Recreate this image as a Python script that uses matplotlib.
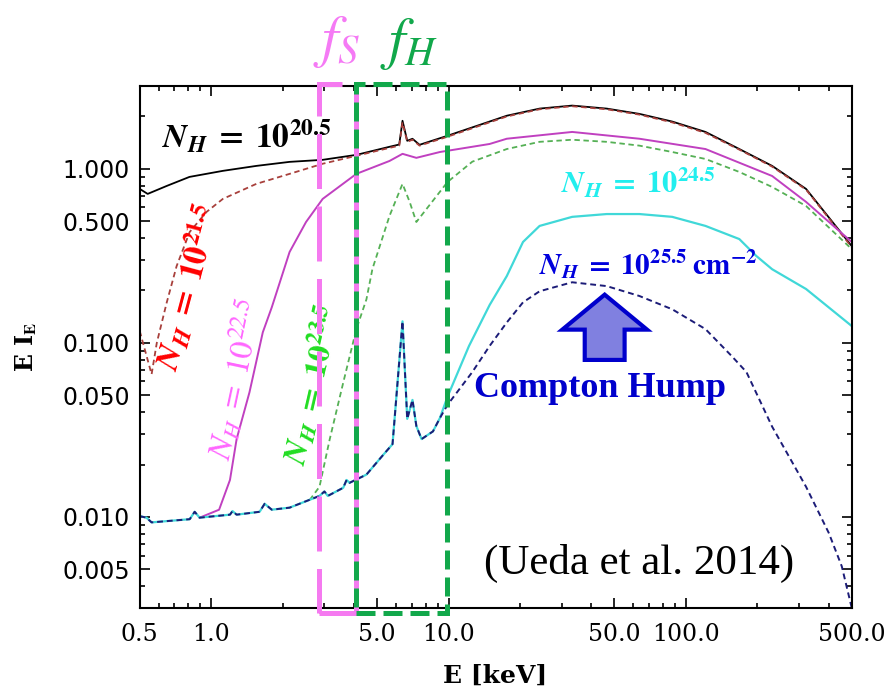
import matplotlib
matplotlib.use('Agg')
import matplotlib.pyplot as plt
import matplotlib.transforms as mtransforms
from matplotlib.patches import Rectangle, FancyArrow
from matplotlib.ticker import FixedLocator, NullFormatter

plt.rcParams['mathtext.fontset'] = 'stix'

# energy [keV] and E*I_E
nh205_e = [0.5, 0.54, 0.65, 0.81, 1.12, 1.55, 2.14, 2.95, 4.1, 5.64, 6.2, 6.4, 6.7, 7.05,
           7.55, 9.9, 17.6, 24.2, 33.2, 46.4, 63.7, 87.6, 121, 168, 231, 321, 500]
nh205_v = [0.767, 0.718, 0.798, 0.899, 0.974, 1.04, 1.097, 1.127, 1.204, 1.339, 1.38, 1.89,
           1.45, 1.489, 1.375, 1.549, 2.02, 2.22, 2.31, 2.22, 2.07, 1.87, 1.63, 1.30, 1.04,
           0.767, 0.36]

nh215_e = [0.5, 0.561, 0.59, 0.65, 0.715, 0.812, 0.955, 1.12, 1.55, 2.14, 2.95, 4.1, 5.64,
           6.2, 6.4, 6.7, 7.05, 7.55, 9.9, 17.6, 24.2, 33.2, 46.4, 63.7, 87.6, 121, 168,
           231, 321, 500]
nh215_v = [0.117, 0.066, 0.10, 0.171, 0.276, 0.434, 0.565, 0.672, 0.82, 0.936, 1.07, 1.19,
           1.32, 1.36, 1.85, 1.43, 1.47, 1.36, 1.53, 2.0, 2.2, 2.29, 2.2, 2.05, 1.85, 1.61,
           1.29, 1.03, 0.76, 0.355]

nh225_e = [0.894, 1.08, 1.20, 1.28, 1.45, 1.65, 1.80, 2.14, 2.51, 2.95, 4.09, 5.64, 6.4,
           7.32, 9.2, 14.9, 17.6, 33.2, 63.7, 121, 231, 321, 500]
nh225_v = [0.0099, 0.011, 0.0163, 0.028, 0.052, 0.115, 0.16, 0.333, 0.495, 0.672, 0.936,
           1.11, 1.22, 1.157, 1.25, 1.39, 1.49, 1.63, 1.49, 1.30, 0.91, 0.646, 0.38]

nh235_e = [2.60, 2.86, 3.16, 3.60, 4.09, 4.51, 4.78, 5.64, 6.4, 6.86, 7.32, 9.9, 12.6, 17.6,
           24.2, 33.2, 46.4, 63.7, 87.6, 121, 168, 231, 321, 500]
nh235_v = [0.0125, 0.0149, 0.028, 0.059, 0.12, 0.178, 0.266, 0.536, 0.82, 0.646, 0.495,
           0.84, 1.10, 1.30, 1.43, 1.47, 1.43, 1.36, 1.25, 1.14, 0.96, 0.787, 0.612, 0.346]

# scattered floor shared by the two most absorbed spectra
floor_e = [0.5, 0.534, 0.561, 0.812, 0.852, 0.894, 1.20, 1.23, 1.28, 1.60, 1.68, 1.80, 2.14,
           2.86, 3.00, 3.10, 3.60, 3.72, 3.83, 4.51, 5.2, 5.81, 6.4, 6.7, 7.05, 7.32, 7.7,
           8.6, 9.2]
floor_v = [0.0101, 0.0099, 0.0093, 0.0097, 0.0107, 0.0099, 0.0103, 0.0108, 0.0103, 0.0107,
           0.0119, 0.011, 0.0113, 0.0132, 0.014, 0.0132, 0.0147, 0.0163, 0.0157, 0.0175,
           0.022, 0.0262, 0.133, 0.0366, 0.047, 0.0333, 0.028, 0.031, 0.037]

nh245_e = [9.9, 12.2, 14.9, 17.6, 20.6, 24.2, 33.2, 46.4, 63.7, 87.6, 121, 168, 198, 231,
           321, 500]
nh245_v = [0.049, 0.096, 0.165, 0.242, 0.38, 0.47, 0.53, 0.55, 0.55, 0.53, 0.47, 0.395,
           0.316, 0.265, 0.204, 0.125]

nh255_e = [9.9, 12.6, 14.9, 17.6, 20.6, 24.2, 33.2, 46.4, 63.7, 87.6, 121, 156, 180, 231,
           321, 400, 454, 500]
nh255_v = [0.044, 0.068, 0.096, 0.131, 0.171, 0.198, 0.223, 0.212, 0.186, 0.156, 0.12,
           0.084, 0.068, 0.033, 0.0149, 0.0081, 0.0052, 0.003]

xticks = [0.5, 1, 5, 10, 50, 100, 500]
xticklabels = ['0.5', '1.0', '5.0', '10.0', '50.0', '100.0', '500.0']
yticks = [0.005, 0.01, 0.05, 0.1, 0.5, 1.0]
yticklabels = ['0.005', '0.010', '0.050', '0.100', '0.500', '1.000']

soft_band = (2.84, 4.09)
hard_band = (4.09, 9.9)


def nh_label(power, bold=True):
    if bold:
        return (r'$\boldsymbol{N}_{\boldsymbol{H}}\;\mathbf{=}\;\mathbf{10}^{\mathbf{%s}}$'
                % power)
    return r'$N_H\;=\;10^{%s}$' % power


fig = plt.figure(figsize=(8.9, 6.9), dpi=100)
ax = fig.add_axes([0.157, 0.119, 0.8, 0.7566])
ax.set_xscale('log')
ax.set_yscale('log')

ax.plot(nh205_e, nh205_v, color='black', lw=1.3)
ax.plot(nh215_e, nh215_v, color='#a8403c', lw=1.3, ls=(0, (3, 2)))
ax.plot(nh225_e, nh225_v, color='#c040c0', lw=1.4)
ax.plot(nh235_e, nh235_v, color='#55b055', lw=1.3, ls=(0, (3, 2)))
ax.plot(floor_e + nh245_e, floor_v + nh245_v, color='#40d8d8', lw=1.6)
ax.plot(floor_e + nh255_e, floor_v + nh255_v, color='#1c1c78', lw=1.4, ls=(0, (3, 2)))

ax.set_xlim(0.5, 500)
ax.set_ylim(0.003, 3.0)

minor_x = [m * d for d in (0.1, 1, 10, 100) for m in range(2, 10)]
minor_x = [v for v in minor_x if 0.5 <= v <= 500 and v not in xticks]
minor_y = [m * d for d in (0.001, 0.01, 0.1, 1) for m in range(1, 10)]
minor_y = [v for v in minor_y if 0.003 <= v <= 3 and round(v, 6) not in yticks]
ax.set_xticks(xticks)
ax.set_xticklabels(xticklabels, family='DejaVu Serif', fontsize=17)
ax.xaxis.set_minor_locator(FixedLocator(minor_x))
ax.xaxis.set_minor_formatter(NullFormatter())
ax.set_yticks(yticks)
ax.set_yticklabels(yticklabels, family='DejaVu Sans', fontsize=17)
ax.yaxis.set_minor_locator(FixedLocator(minor_y))
ax.yaxis.set_minor_formatter(NullFormatter())
ax.tick_params(which='both', direction='in', top=True, right=True, width=1.2)
ax.tick_params(which='major', length=7)
ax.tick_params(which='minor', length=3.5)
ax.tick_params(axis='x', pad=11)
ax.tick_params(axis='y', pad=7)
for sp in ax.spines.values():
    sp.set_linewidth(1.5)

fig.text(0.556, 0.021, 'E [keV]', family='DejaVu Serif', weight='bold', fontsize=18,
         ha='center', va='center')
fig.text(0.03, 0.497, r'E I$_\mathbf{E}$', family='DejaVu Serif', weight='bold',
         fontsize=17, rotation=90, ha='center', va='center')

# band boxes
trans = mtransforms.blended_transform_factory(ax.transData, ax.transAxes)
ax.add_patch(Rectangle((soft_band[0], -0.01), soft_band[1] - soft_band[0], 1.014,
                       transform=trans, fill=False, ec='#f57af0', lw=3.6,
                       ls=(0, (11, 3.5)), clip_on=False, zorder=5))
ax.plot([soft_band[1], soft_band[1]], [-0.01, 1.004], transform=trans, color='#f57af0',
        lw=3.6, clip_on=False, zorder=5)
ax.add_patch(Rectangle((hard_band[0], -0.01), hard_band[1] - hard_band[0], 1.014,
                       transform=trans, fill=False, ec='#12a84b', lw=3.6,
                       ls=(0, (3.8, 1.6)), clip_on=False, zorder=6))
fig.text(0.378, 0.94, r'$f_S$', color='#f57af5', fontsize=42, ha='center', va='center')
fig.text(0.46, 0.937, r'$f_H$', color='#11a84b', fontsize=42, ha='center', va='center')

# curve labels
ax.text(0.150, 0.902, nh_label('20.5'), transform=ax.transAxes,
        fontsize=24, color='black', ha='center', va='center')
ax.text(0.068, 0.613, nh_label('21.5'), transform=ax.transAxes,
        fontsize=24, color='#ff0000', ha='center', va='center', rotation=75)
ax.text(0.135, 0.437, nh_label('22.5', bold=False), transform=ax.transAxes,
        fontsize=24, color='#ff66ff', ha='center', va='center', rotation=78)
ax.text(0.242, 0.427, nh_label('23.5'), transform=ax.transAxes,
        fontsize=23, color='#22dd22', ha='center', va='center', rotation=77)
ax.text(0.700, 0.814, nh_label('24.5'), transform=ax.transAxes,
        fontsize=22, color='#22eeee', ha='center', va='center')
ax.text(0.714, 0.657, nh_label('25.5')[:-1] + r'\;\mathbf{cm^{-2}}$',
        transform=ax.transAxes, fontsize=21, color='#0000dd', ha='center', va='center')

ax.add_patch(FancyArrow(0.653, 0.475, 0, 0.125, width=0.056, head_width=0.119,
                        head_length=0.067, length_includes_head=True,
                        transform=ax.transAxes, fc='#8080e0', ec='#0000cc', lw=3,
                        zorder=7))
ax.text(0.646, 0.421, 'Compton Hump', transform=ax.transAxes, family='Liberation Serif',
        weight='bold', fontsize=26, color='#0000cc', ha='center', va='center')
ax.text(0.702, 0.086, '(Ueda et al. 2014)', transform=ax.transAxes,
        family='Liberation Serif', fontsize=31, color='black', ha='center', va='center')

fig.savefig('out.png', dpi=100)
